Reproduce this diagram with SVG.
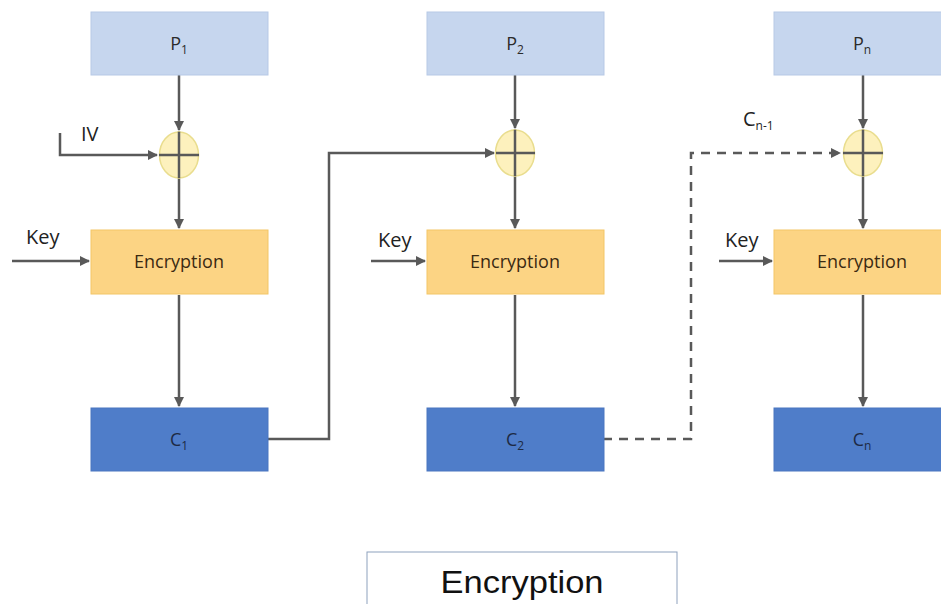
<svg xmlns="http://www.w3.org/2000/svg" width="941" height="604" viewBox="0 0 941 604">
<defs>
<marker id="ah" viewBox="0 0 10 10" refX="9" refY="5" markerWidth="4" markerHeight="4" orient="auto" markerUnits="strokeWidth">
<path d="M0,0 L10,5 L0,10 z" fill="#595959"/>
</marker>
<style>
.p{fill:#c6d6ee;stroke:#b7c9e6;stroke-width:1}
.e{fill:#fcd484;stroke:#f3c667;stroke-width:1}
.c{fill:#4f7dc9;stroke:#4a76c0;stroke-width:1}
.x{fill:#fdf1bd;stroke:#e9dd8e;stroke-width:1.5}
.ln{stroke:#595959;stroke-width:2.5;fill:none}
.dash{stroke-dasharray:9 7}
.t{font-family:"Open Sans","Liberation Sans",sans-serif;font-size:18px;text-anchor:middle}
.lbl{font-family:"Open Sans","Liberation Sans",sans-serif;font-size:20px;fill:#222}
.sub{font-size:12px}
</style>
</defs>
<rect width="941" height="604" fill="#ffffff"/>

<g id="connectors">
<!-- column 1 -->
<line class="ln" x1="179" y1="75" x2="179" y2="130" marker-end="url(#ah)"/>
<line class="ln" x1="179" y1="131" x2="179" y2="228" marker-end="url(#ah)"/>
<polyline class="ln" points="60,133 60,155 157,155" marker-end="url(#ah)"/>
<line class="ln" x1="12" y1="261" x2="89" y2="261" marker-end="url(#ah)"/>
<line class="ln" x1="179" y1="295" x2="179" y2="406" marker-end="url(#ah)"/>
<polyline class="ln" points="268,439 329,439 329,153 494,153" marker-end="url(#ah)"/>
<!-- column 2 -->
<line class="ln" x1="515" y1="75" x2="515" y2="128" marker-end="url(#ah)"/>
<line class="ln" x1="515" y1="129" x2="515" y2="228" marker-end="url(#ah)"/>
<line class="ln" x1="371" y1="261" x2="425" y2="261" marker-end="url(#ah)"/>
<line class="ln" x1="515" y1="295" x2="515" y2="406" marker-end="url(#ah)"/>
<polyline class="ln dash" points="603,439 691,439 691,153 840,153" marker-end="url(#ah)"/>
<!-- column n -->
<line class="ln" x1="863" y1="75" x2="863" y2="128" marker-end="url(#ah)"/>
<line class="ln" x1="863" y1="129" x2="863" y2="228" marker-end="url(#ah)"/>
<line class="ln" x1="719" y1="261" x2="772" y2="261" marker-end="url(#ah)"/>
<line class="ln" x1="863" y1="295" x2="863" y2="406" marker-end="url(#ah)"/>
</g>

<g id="xor1"><ellipse class="x" cx="179" cy="155" rx="19.5" ry="23"/>
<line class="ln" x1="179" y1="132" x2="179" y2="178"/><line class="ln" x1="159" y1="155" x2="199" y2="155"/></g>
<g id="xor2"><ellipse class="x" cx="515" cy="153" rx="19.5" ry="23"/>
<line class="ln" x1="515" y1="130" x2="515" y2="176"/><line class="ln" x1="496" y1="153" x2="535" y2="153"/></g>
<g id="xorn"><ellipse class="x" cx="863" cy="153" rx="19.5" ry="23"/>
<line class="ln" x1="863" y1="130" x2="863" y2="176"/><line class="ln" x1="843" y1="153" x2="883" y2="153"/></g>

<g id="p1"><rect class="p" x="91" y="12" width="177" height="63"/>
<text class="t" x="179" y="50" fill="#2b2b2b">P<tspan class="sub" dy="4">1</tspan></text></g>
<g id="p2"><rect class="p" x="427" y="12" width="177" height="63"/>
<text class="t" x="515" y="50" fill="#2b2b2b">P<tspan class="sub" dy="4">2</tspan></text></g>
<g id="pn"><rect class="p" x="774" y="12" width="177" height="63"/>
<text class="t" x="862" y="50" fill="#2b2b2b">P<tspan class="sub" dy="4">n</tspan></text></g>

<g id="enc1"><rect class="e" x="91" y="230" width="177" height="64"/>
<text class="t" x="179" y="268" fill="#3b2a12">Encryption</text></g>
<g id="enc2"><rect class="e" x="427" y="230" width="177" height="64"/>
<text class="t" x="515" y="268" fill="#3b2a12">Encryption</text></g>
<g id="encn"><rect class="e" x="774" y="230" width="177" height="64"/>
<text class="t" x="862" y="268" fill="#3b2a12">Encryption</text></g>

<g id="c1"><rect class="c" x="91" y="408" width="177" height="63"/>
<text class="t" x="179" y="446" fill="#1d2a44">C<tspan class="sub" dy="4">1</tspan></text></g>
<g id="c2"><rect class="c" x="427" y="408" width="177" height="63"/>
<text class="t" x="515" y="446" fill="#1d2a44">C<tspan class="sub" dy="4">2</tspan></text></g>
<g id="cn"><rect class="c" x="774" y="408" width="177" height="63"/>
<text class="t" x="862" y="446" fill="#1d2a44">C<tspan class="sub" dy="4">n</tspan></text></g>

<g id="labels">
<text class="lbl" x="81" y="141">IV</text>
<text class="lbl" x="26" y="244">Key</text>
<text class="lbl" x="378" y="247">Key</text>
<text class="lbl" x="725" y="247">Key</text>
<text class="lbl" x="743" y="126" font-size="18">C<tspan class="sub" dy="4">n-1</tspan></text>
</g>

<g id="caption"><rect x="367" y="552" width="310" height="60" fill="#ffffff" stroke="#8ea1bd" stroke-width="1"/>
<text x="522" y="593" font-family="'Liberation Sans',sans-serif" font-size="32" text-anchor="middle" fill="#111" textLength="163" lengthAdjust="spacingAndGlyphs">Encryption</text></g>
</svg>
